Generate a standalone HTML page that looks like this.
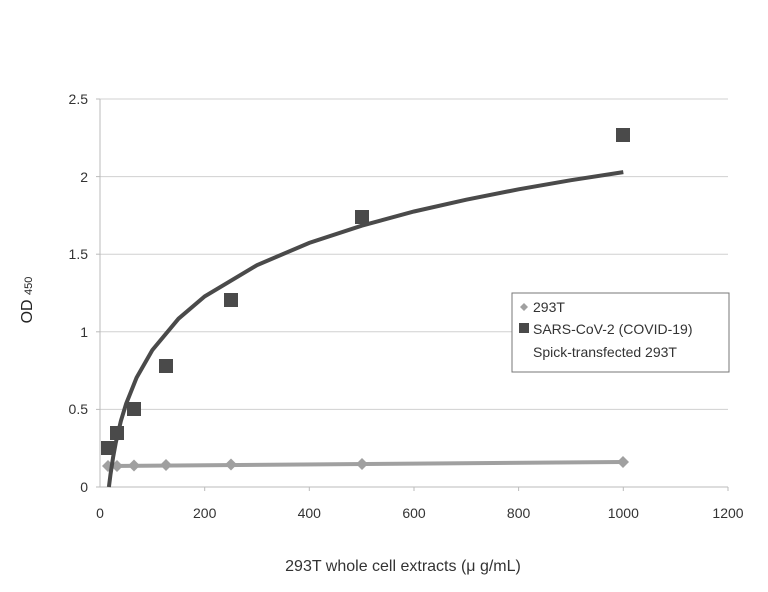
<!DOCTYPE html>
<html><head><style>body{margin:0;background:#fff}</style></head><body>
<svg width="768" height="587" xmlns="http://www.w3.org/2000/svg" font-family="Liberation Sans, sans-serif">
<rect width="768" height="587" fill="#fff"/>
<g stroke="#d0d0d0" stroke-width="1">
<line x1="100" y1="99" x2="728" y2="99"/><line x1="100" y1="176.6" x2="728" y2="176.6"/>
<line x1="100" y1="254.2" x2="728" y2="254.2"/><line x1="100" y1="331.8" x2="728" y2="331.8"/>
<line x1="100" y1="409.4" x2="728" y2="409.4"/>
</g>
<g stroke="#bbb"><line x1="100" y1="99" x2="100" y2="487"/><line x1="96" y1="487" x2="728" y2="487"/>
<line x1="96" y1="99" x2="100" y2="99"/><line x1="96" y1="176.6" x2="100" y2="176.6"/><line x1="96" y1="254.2" x2="100" y2="254.2"/><line x1="96" y1="331.8" x2="100" y2="331.8"/><line x1="96" y1="409.4" x2="100" y2="409.4"/>
<line x1="204.7" y1="487" x2="204.7" y2="491"/><line x1="309.3" y1="487" x2="309.3" y2="491"/><line x1="414" y1="487" x2="414" y2="491"/><line x1="518.6" y1="487" x2="518.6" y2="491"/><line x1="623.3" y1="487" x2="623.3" y2="491"/><line x1="728" y1="487" x2="728" y2="491"/></g>
<g font-size="14" fill="#333" text-anchor="end">
<text x="88" y="104">2.5</text><text x="88" y="182">2</text><text x="88" y="259">1.5</text><text x="88" y="337">1</text><text x="88" y="414">0.5</text><text x="88" y="492">0</text></g>
<g font-size="14" fill="#333" text-anchor="middle">
<text x="100" y="518">0</text><text x="204.7" y="518">200</text><text x="309.3" y="518">400</text><text x="414" y="518">600</text><text x="518.6" y="518">800</text><text x="623.3" y="518">1000</text><text x="728" y="518">1200</text>
<text x="403" y="571" font-size="16">293T whole cell extracts (μ g/mL)</text>
</g>
<text transform="translate(32,300) rotate(-90)" font-size="16" fill="#222" text-anchor="middle">OD <tspan font-size="11">450</tspan></text>
<polyline fill="none" stroke="#a0a0a0" stroke-width="4" points="108,466 623,462"/>
<g fill="#a0a0a0">
<path d="M108,460 l6,6 -6,6 -6,-6z"/><path d="M117,460 l6,6 -6,6 -6,-6z"/><path d="M134,459.5 l6,6 -6,6 -6,-6z"/><path d="M166,459 l6,6 -6,6 -6,-6z"/><path d="M231,458.5 l6,6 -6,6 -6,-6z"/><path d="M362,458 l6,6 -6,6 -6,-6z"/><path d="M623,456 l6,6 -6,6 -6,-6z"/>
</g>
<polyline fill="none" stroke="#4a4a4a" stroke-width="4" points="108.9,487 110.5,474.4 113.1,457.2 115.7,443.1 120.9,420.9 126.2,403.6 136.6,377.6 152.3,350.1 178.5,318.7 204.7,296.4 257,265.1 309.3,242.9 361.7,225.7 414,211.5 466.3,199.7 518.6,189.3 571,180.2 623.3,172.1"/>
<g fill="#4a4a4a">
<rect x="101" y="441" width="14" height="14"/><rect x="110" y="426" width="14" height="14"/><rect x="127" y="402" width="14" height="14"/><rect x="159" y="359" width="14" height="14"/><rect x="224" y="293" width="14" height="14"/><rect x="355" y="210" width="14" height="14"/><rect x="616" y="128" width="14" height="14"/>
</g>
<rect x="512" y="293" width="217" height="79" fill="#fff" stroke="#777"/>
<path d="M524,303 l4,4 -4,4 -4,-4z" fill="#a0a0a0"/>
<text x="533" y="312" font-size="14" fill="#333">293T</text>
<rect x="519" y="323" width="10" height="10" fill="#4a4a4a"/>
<text x="533" y="334" font-size="14" fill="#333">SARS-CoV-2 (COVID-19)</text>
<text x="533" y="357" font-size="14" fill="#333">Spick-transfected 293T</text>
</svg>
</body></html>
